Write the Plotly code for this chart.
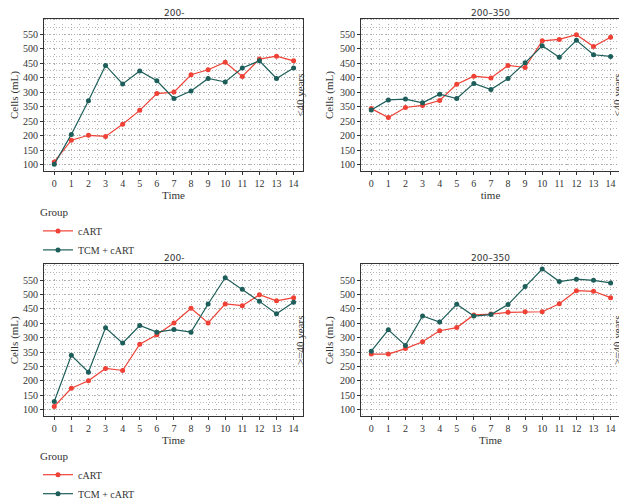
import plotly.graph_objects as go

# ---------------- data ----------------
time = list(range(15))

# <40 years, 200-
cart_lt40_200 = [110, 185, 202, 198, 240, 288, 346, 351, 411, 428, 454, 405, 465, 475, 459]
tcm_lt40_200 = [102, 205, 321, 443, 379, 424, 390, 329, 355, 398, 386, 434, 459, 398, 434]

# <40 years, 200-350
cart_lt40_350 = [294, 263, 298, 305, 322, 378, 406, 400, 443, 436, 528, 533, 549, 508, 540]
tcm_lt40_350 = [289, 324, 327, 314, 344, 329, 381, 360, 398, 452, 511, 471, 530, 480, 474]

# >=40 years, 200-
cart_ge40_200 = [111, 174, 200, 243, 236, 327, 360, 401, 452, 401, 467, 461, 499, 478, 489]
tcm_ge40_200 = [128, 289, 230, 384, 331, 392, 369, 378, 369, 467, 558, 518, 476, 433, 473]

# >=40 years, 200-350
cart_ge40_350 = [293, 293, 312, 336, 374, 385, 429, 432, 438, 440, 440, 468, 513, 511, 489]
tcm_ge40_350 = [303, 377, 323, 425, 404, 466, 425, 430, 465, 528, 588, 545, 553, 549, 540]

y_tickvals = [100, 150, 200, 250, 300, 350, 400, 450, 500, 550]
y_ticktext = ["100", "150", "200", "250", "350", "300", "400", "450", "500", "550"]
panel_titles = ["200-", "200\u2013350", "200-", "200\u2013350"]
x_titles = ["Time", "time", "Time", "Time"]
strip_labels = ["<40 years", "<40 years", ">=40 years", ">=40 years"]

RED = "#EF4136"
GREEN = "#1D5E5A"
W, H = 627, 501
SERIF = "Liberation Serif"
TXT = "#333333"

# panel boxes in pixels (left, right, top, bottom)
boxes = [(36, 295, 11, 171), (353, 612, 11, 171),
         (36, 295, 268, 427), (353, 612, 268, 427)]

series = [(cart_lt40_200, tcm_lt40_200), (cart_lt40_350, tcm_lt40_350),
          (cart_ge40_200, tcm_ge40_200), (cart_ge40_350, tcm_ge40_350)]

fig = go.Figure()

for i, (cart, tcm) in enumerate(series):
    n = "" if i == 0 else str(i + 1)
    leg = "legend" if i < 2 else "legend2"
    show = i in (0, 2)
    fig.add_trace(go.Scatter(x=time, y=cart, mode="lines+markers", name="cART",
                             line=dict(color=RED, width=1.2), marker=dict(size=5, color=RED),
                             xaxis="x" + n, yaxis="y" + n, legend=leg, showlegend=show))
    fig.add_trace(go.Scatter(x=time, y=tcm, mode="lines+markers", name="TCM + cART",
                             line=dict(color=GREEN, width=1.2), marker=dict(size=5, color=GREEN),
                             xaxis="x" + n, yaxis="y" + n, legend=leg, showlegend=show))
    # empty trace so the right-hand strip axis gets drawn
    fig.add_trace(go.Scatter(x=[], y=[], xaxis="x" + n, yaxis="y" + str(i + 5),
                             showlegend=False, hoverinfo="skip"))

    l, r, t, b = boxes[i]
    axis_common = dict(showline=True, linecolor=TXT, linewidth=1, mirror=True,
                       ticks="outside", ticklen=3, tickcolor=TXT,
                       showgrid=True, gridcolor="#a8a8a8", griddash="1px,4px", gridwidth=1,
                       zeroline=False, tickfont=dict(family=SERIF, size=10, color=TXT))
    fig.layout["xaxis" + n] = dict(axis_common, domain=[l / W, r / W], anchor="y" + n,
                                   range=[-0.6, 14.55], tickvals=time,
                                   minor=dict(dtick=0.5, tick0=0.5, showgrid=True,
                                              gridcolor="#b8b8b8", griddash="1px,4px"),
                                   title=dict(text=x_titles[i], standoff=2,
                                              font=dict(family=SERIF, size=11, color=TXT)))
    fig.layout["yaxis" + n] = dict(axis_common, domain=[1 - b / H, 1 - t / H], anchor="x" + n,
                                   range=[77, 605], tickvals=y_tickvals, ticktext=y_ticktext,
                                   minor=dict(dtick=25, tick0=75, showgrid=True,
                                              gridcolor="#b8b8b8", griddash="1px,2px"),
                                   title=dict(text="Cells (mL)", standoff=4,
                                              font=dict(family=SERIF, size=11, color=TXT)))
    # facet strip on the right side, drawn as the title of an overlaying axis
    fig.layout["yaxis" + str(i + 5)] = dict(overlaying="y" + n, anchor="free", side="right",
                                            position=(r - 7) / W,
                                            range=[77, 605], showgrid=False, zeroline=False,
                                            showticklabels=False, ticks="", showline=False,
                                            title=dict(text=strip_labels[i], standoff=0,
                                                       font=dict(family=SERIF, size=11, color=TXT)))

    fig.add_annotation(text=panel_titles[i], x=(l + r) / 2 / W, y=1 - (t - 6) / H,
                       xref="paper", yref="paper", showarrow=False,
                       xanchor="center", yanchor="middle",
                       font=dict(family="DejaVu Sans", size=9, color=TXT))

legend_style = dict(title=dict(text="Group", font=dict(family=SERIF, size=11, color=TXT)),
                    font=dict(family=SERIF, size=10, color=TXT),
                    xanchor="left", yanchor="top", bgcolor="rgba(0,0,0,0)",
                    tracegroupgap=0, itemwidth=30)

fig.update_layout(
    width=W, height=H,
    margin=dict(l=0, r=0, t=0, b=0),
    plot_bgcolor="white", paper_bgcolor="white",
    legend=dict(legend_style, x=30 / W, y=1 - 203 / H),
    legend2=dict(legend_style, x=30 / W, y=1 - 458 / H),
)

fig.write_html("out.html")
